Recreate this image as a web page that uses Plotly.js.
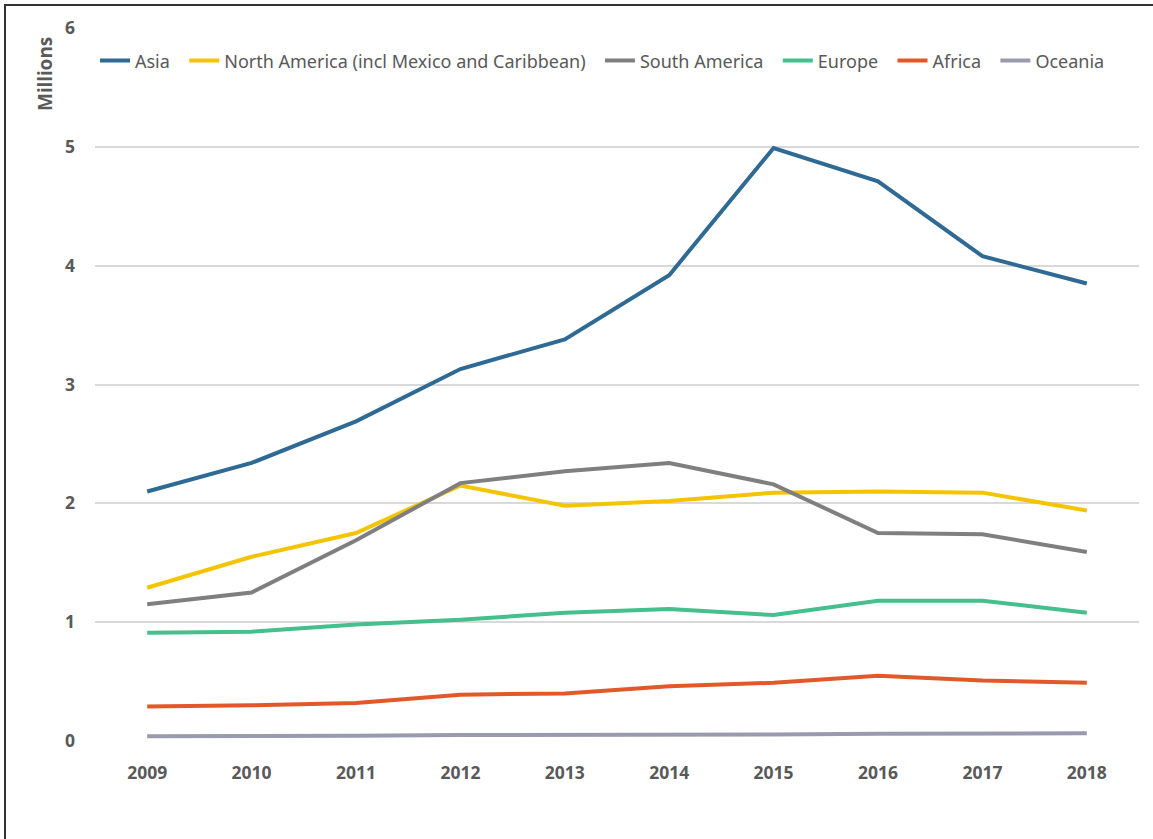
<!DOCTYPE html>
<html>
<head>
<meta charset="utf-8">
<script src="https://cdn.plot.ly/plotly-3.0.1.min.js"></script>
<style>
  html, body { margin: 0; padding: 0; background: #fff; overflow: hidden; }
  #frame { position: absolute; left: 4px; top: 4px; width: 1170px; height: 860px; border: 2px solid #333; box-sizing: border-box; }
  #chart { position: absolute; left: 0; top: 0; width: 1153px; height: 839px; }
</style>
</head>
<body>
<div id="frame"></div>
<div id="chart"></div>
<script>
const years = ['2009','2010','2011','2012','2013','2014','2015','2016','2017','2018'];
const asia = [2.10, 2.34, 2.69, 3.13, 3.38, 3.92, 4.99, 4.71, 4.08, 3.85];
const northAmerica = [1.29, 1.55, 1.75, 2.15, 1.98, 2.02, 2.09, 2.10, 2.09, 1.94];
const southAmerica = [1.15, 1.25, 1.69, 2.17, 2.27, 2.34, 2.16, 1.75, 1.74, 1.59];
const europe = [0.91, 0.92, 0.98, 1.02, 1.08, 1.11, 1.06, 1.18, 1.18, 1.08];
const africa = [0.29, 0.30, 0.32, 0.39, 0.40, 0.46, 0.49, 0.55, 0.51, 0.49];
const oceania = [0.04, 0.04, 0.045, 0.05, 0.05, 0.055, 0.055, 0.06, 0.065, 0.065];
const yTicks = [0, 1, 2, 3, 4, 5, 6];

const seriesNames = ['Asia', 'North America (incl Mexico and Caribbean)', 'South America', 'Europe', 'Africa', 'Oceania'];
const seriesData = [asia, northAmerica, southAmerica, europe, africa, oceania];
const seriesColors = ['#2e6a94', '#f5c400', '#7f7f7f', '#45bf8c', '#e2582a', '#9a9aae'];

const pad = '\u00a0\u00a0';
const traces = seriesNames.map((n, i) => ({
  type: 'scatter', mode: 'lines', name: n + pad, x: years, y: seriesData[i],
  line: { color: seriesColors[i], width: 4, shape: 'linear' },
  hovertemplate: n + ': %{y}<extra>%{x}</extra>'
}));

const layout = {
  width: 1153, height: 839,
  margin: { l: 95, r: 14, t: 28, b: 98 },
  paper_bgcolor: 'rgba(0,0,0,0)', plot_bgcolor: '#fff',
  font: { family: 'Noto Sans, sans-serif', color: '#595959' },
  showlegend: true,
  legend: {
    orientation: 'h', x: 0, xanchor: 'left', y: 0.954, yanchor: 'middle',
    font: { family: 'Noto Sans, sans-serif', size: 18, color: '#595959' },
    bgcolor: 'rgba(255,255,255,0)', tracegroupgap: 0, itemwidth: 30
  },
  xaxis: {
    type: 'category', range: [-0.5, 9.5], showgrid: false, zeroline: false,
    showline: false, ticks: '', ticklabelstandoff: 19,
    tickfont: { family: 'Noto Sans, sans-serif', size: 17.5, weight: 'bold', color: '#595959' }
  },
  yaxis: {
    range: [0, 6], tickvals: yTicks, ticktext: yTicks.map(String),
    showgrid: true, gridcolor: '#d9d9d9', gridwidth: 1.5, zeroline: false,
    showline: false, ticks: '', ticklabelstandoff: 19,
    tickfont: { family: 'Noto Sans, sans-serif', size: 17.5, weight: 'bold', color: '#595959' }
  },
  annotations: [{
    text: 'Millions', xref: 'paper', yref: 'paper', x: -0.048, y: 0.99,
    xanchor: 'center', yanchor: 'top', textangle: -90, showarrow: false,
    font: { family: 'Noto Sans, sans-serif', size: 19, weight: 'bold', color: '#595959' }
  }]
};

Plotly.newPlot('chart', traces, layout, { displayModeBar: false });
</script>
</body>
</html>
